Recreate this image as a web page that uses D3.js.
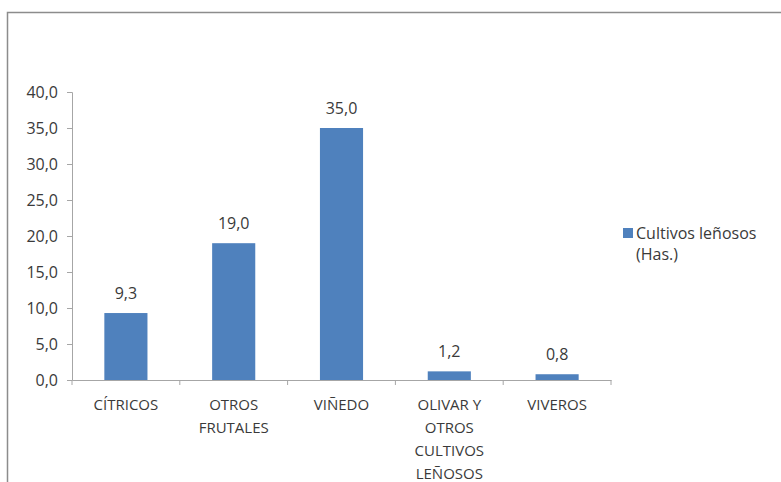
<!DOCTYPE html>
<html>
<head>
<meta charset="utf-8">
<script src="https://cdn.jsdelivr.net/npm/d3@7"></script>
<style>
  body { margin: 0; background: #fff; }
  text { font-family: "Open Sans", sans-serif; }
</style>
</head>
<body>
<div id="vis1"></div>
<script>
const FRAME_HEIGHT = 482;
const FRAME_WIDTH = 781;
const MARGINS = {left: 72, right: 170, top: 92, bottom: 102};

const VIS_HEIGHT = FRAME_HEIGHT - MARGINS.top - MARGINS.bottom;
const VIS_WIDTH = FRAME_WIDTH - MARGINS.left - MARGINS.right;

// data
const CATEGORIES = ["CÍTRICOS", "OTROS FRUTALES", "VIÑEDO", "OLIVAR Y OTROS CULTIVOS LEÑOSOS", "VIVEROS"];
const CATEGORY_LINES = [["CÍTRICOS"], ["OTROS", "FRUTALES"], ["VIÑEDO"], ["OLIVAR Y", "OTROS", "CULTIVOS", "LEÑOSOS"], ["VIVEROS"]];
const VALUES = [9.3, 19.0, 35.0, 1.2, 0.8];
const Y_TICKS = [0, 5, 10, 15, 20, 25, 30, 35, 40];
const SERIES_NAME = ["Cultivos leñosos", "(Has.)"];

const fmt = (v) => v.toFixed(1).replace(".", ",");

const FRAME1 = d3.select("#vis1")
                  .append("svg")
                  .attr("height", FRAME_HEIGHT)
                  .attr("width", FRAME_WIDTH);

// outer chart border (cut off at right and bottom)
FRAME1.append("rect")
      .attr("x", 7.5)
      .attr("y", 12.5)
      .attr("width", 900)
      .attr("height", 600)
      .attr("fill", "none")
      .attr("stroke", "#8c8c8c")
      .attr("stroke-width", 1.5);

// inner padding 0.6, outer 0.3 so band boundaries fall on the axis ends
const X_SCALE = d3.scaleBand()
                  .domain(CATEGORIES)
                  .range([0, VIS_WIDTH])
                  .paddingInner(0.6)
                  .paddingOuter(0.3);

const Y_SCALE = d3.scaleLinear()
                  .domain([0, 40])
                  .range([VIS_HEIGHT, 0]);

const G = FRAME1.append("g")
                .attr("transform", "translate(" + MARGINS.left + "," + MARGINS.top + ")");

// bars
G.selectAll(".bar")
  .data(VALUES)
  .enter()
  .append("rect")
    .attr("class", "bar")
    .attr("x", (d, i) => X_SCALE(CATEGORIES[i]))
    .attr("y", (d) => Y_SCALE(d))
    .attr("width", X_SCALE.bandwidth())
    .attr("height", (d) => VIS_HEIGHT - Y_SCALE(d))
    .attr("fill", "#4f81bd");

// value labels
G.selectAll(".vlabel")
  .data(VALUES)
  .enter()
  .append("text")
    .attr("class", "vlabel")
    .attr("x", (d, i) => X_SCALE(CATEGORIES[i]) + X_SCALE.bandwidth() / 2)
    .attr("y", (d) => Y_SCALE(d) - 14)
    .attr("text-anchor", "middle")
    .attr("font-size", "16px")
    .attr("fill", "#3a3a3a")
    .text((d) => fmt(d));

// y axis
const yAxis = G.append("g")
               .call(d3.axisLeft(Y_SCALE).tickValues(Y_TICKS).tickSize(5).tickPadding(9).tickFormat(fmt));
yAxis.selectAll("path, line").attr("stroke", "#a6a6a6");
yAxis.selectAll("text")
     .attr("font-family", "Open Sans")
     .attr("font-size", "16px")
     .attr("fill", "#3a3a3a");

// x axis: ticks on band boundaries
const xAxis = G.append("g")
               .attr("transform", "translate(0," + VIS_HEIGHT + ")")
               .call(d3.axisBottom(X_SCALE).tickSize(0).tickPadding(0));
xAxis.select(".domain").attr("stroke", "#a6a6a6");

const step = X_SCALE.step();
xAxis.selectAll(".sep")
     .data(d3.range(CATEGORIES.length + 1))
     .enter()
     .append("line")
       .attr("class", "sep")
       .attr("x1", (i) => i * step)
       .attr("x2", (i) => i * step)
       .attr("y1", 0)
       .attr("y2", 5)
       .attr("stroke", "#a6a6a6");

xAxis.selectAll(".tick text")
     .attr("font-family", "Open Sans")
     .attr("font-size", "15px")
     .attr("fill", "#3a3a3a")
     .attr("dy", null)
     .each(function (d, i) {
       const t = d3.select(this);
       t.text(null);
       CATEGORY_LINES[i].forEach((line, k) => {
         t.append("tspan")
          .attr("x", 0)
          .attr("y", 30 + k * 23)
          .text(line);
       });
     });

// legend
const LEGEND = FRAME1.append("g").attr("transform", "translate(623,228)");
LEGEND.append("rect")
      .attr("width", 10)
      .attr("height", 10)
      .attr("fill", "#4f81bd");
LEGEND.selectAll("text")
      .data(SERIES_NAME)
      .enter()
      .append("text")
        .attr("x", 13)
        .attr("y", (d, i) => 11 + i * 21)
        .attr("font-size", "16px")
        .attr("fill", "#3a3a3a")
        .text((d) => d);
</script>
</body>
</html>
